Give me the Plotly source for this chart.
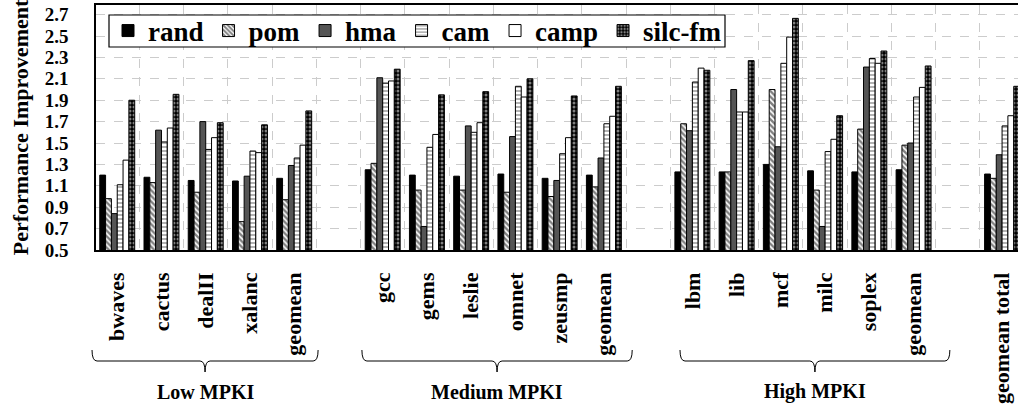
import plotly.graph_objects as go

# ---------------- data ----------------
categories = ["bwaves", "cactus", "dealII", "xalanc", "geomean", "",
              "gcc", "gems", "leslie", "omnet", "zeusmp", "geomean", "",
              "lbm", "lib", "mcf", "milc", "soplex", "geomean", "",
              "geomean total"]

rand = [1.20, 1.18, 1.15, 1.145, 1.17, None,
        1.25, 1.20, 1.19, 1.21, 1.17, 1.20, None,
        1.23, 1.23, 1.30, 1.24, 1.23, 1.25, None,
        1.21]
pom = [0.98, 1.13, 1.04, 0.765, 0.97, None,
       1.31, 1.06, 1.06, 1.04, 1.00, 1.09, None,
       1.68, 1.23, 2.00, 1.06, 1.63, 1.48, None,
       1.17]
hma = [0.84, 1.62, 1.70, 1.19, 1.29, None,
       2.11, 0.72, 1.66, 1.56, 1.15, 1.36, None,
       1.615, 2.00, 1.465, 0.72, 2.21, 1.50, None,
       1.39]
cam = [1.11, 1.51, 1.44, 1.425, 1.36, None,
       2.06, 1.46, 1.60, 2.03, 1.40, 1.68, None,
       2.07, 1.79, 2.245, 1.42, 2.29, 1.93, None,
       1.66]
camp = [1.34, 1.64, 1.55, 1.41, 1.48, None,
        2.08, 1.58, 1.69, 1.93, 1.55, 1.75, None,
        2.20, 1.79, 2.49, 1.535, 2.245, 2.02, None,
        1.755]
silc_fm = [1.90, 1.955, 1.69, 1.67, 1.80, None,
           2.19, 1.95, 1.98, 2.10, 1.94, 2.03, None,
           2.18, 2.27, 2.665, 1.755, 2.36, 2.22, None,
           2.03]

series_names = ["rand", "pom", "hma", "cam", "camp", "silc-fm"]
y_ticks = [0.5, 0.7, 0.9, 1.1, 1.3, 1.5, 1.7, 1.9, 2.1, 2.3, 2.5, 2.7]
group_labels = ["Low MPKI", "Medium MPKI", "High MPKI"]

# ---------------- layout constants ----------------
W, H = 1018, 409
ML, MT, MB = 96, 5, 159
XMIN, XMAX = -0.48, 20.36
YMIN, YMAX = 0.5, 2.79
FONT = "Liberation Serif, Times New Roman, Times, serif"
plot_w = W - ML
plot_h = H - MT - MB

positions = list(range(len(categories)))
tick_pos = [p for p, c in zip(positions, categories) if c]
tick_txt = [c for c in categories if c]

series_values = [rand, pom, hma, cam, camp, silc_fm]
styles = [
    dict(color="black", pattern=dict(shape="")),
    dict(color="white", pattern=dict(shape="\\", fgcolor="black", bgcolor="white", size=4, solidity=0.6)),
    dict(color="#555555", pattern=dict(shape="")),
    dict(color="white", pattern=dict(shape="-", fgcolor="black", bgcolor="white", size=4, solidity=0.3)),
    dict(color="white", pattern=dict(shape="")),
    dict(color="black", pattern=dict(shape=".", fgcolor="white", bgcolor="black", size=4, solidity=0.45)),
]

fig = go.Figure()
for name, vals, st in zip(series_names, series_values, styles):
    fig.add_trace(go.Bar(
        x=positions, y=vals, name=name,
        marker=dict(color=st["color"], pattern=st["pattern"],
                    line=dict(color="black", width=1)),
    ))

def px_x(p):
    return (p - XMIN) / (XMAX - XMIN)

def ppx(X):
    return (X - ML) / plot_w

def py(Y):
    return (H - MB - Y) / plot_h

# braces (data-x spans), pixel y levels
brace_spans = [(-0.57, 4.54), (5.53, 11.64), (12.72, 18.82)]
y_top, y_line, y_tip = py(350), py(361), py(372)
dx = 5 / plot_w
shapes = []
annotations = []
for (a, b), lab in zip(brace_spans, group_labels):
    x0, x1 = px_x(a), px_x(b)
    xc = (x0 + x1) / 2
    path = (f"M {x0},{y_top} Q {x0},{y_line} {x0+dx},{y_line} "
            f"L {xc-dx},{y_line} Q {xc},{y_line} {xc},{y_tip} "
            f"Q {xc},{y_line} {xc+dx},{y_line} "
            f"L {x1-dx},{y_line} Q {x1},{y_line} {x1},{y_top}")
    shapes.append(dict(type="path", xref="paper", yref="paper", path=path,
                       line=dict(color="black", width=1)))
    annotations.append(dict(x=xc, y=py(392), xref="paper", yref="paper",
                            text=lab, showarrow=False,
                            xanchor="center", yanchor="middle",
                            font=dict(family=FONT, size=20, color="black", weight="bold")))

# legend frame (white box behind the transparent legend)
shapes.append(dict(type="rect", xref="paper", yref="paper",
                   x0=ppx(109), x1=ppx(725), y0=py(47), y1=py(15),
                   fillcolor="white", line=dict(color="black", width=1.2),
                   layer="above"))

fig.update_layout(
    width=W, height=H,
    margin=dict(l=ML, r=0, t=MT, b=MB, autoexpand=False),
    paper_bgcolor="white", plot_bgcolor="white",
    barmode="group", bargap=0.21, bargroupgap=0,
    font=dict(family=FONT, color="black"),
    legend=dict(orientation="h", x=ppx(108), y=py(31),
                xanchor="left", yanchor="middle",
                bgcolor="rgba(0,0,0,0)", borderwidth=0,
                font=dict(family=FONT, size=27, color="black", weight="bold"),
                tracegroupgap=0),
    shapes=shapes, annotations=annotations,
)

fig.update_xaxes(
    range=[XMIN, XMAX], tickmode="array", tickvals=tick_pos, ticktext=tick_txt,
    tickangle=-90, ticks="", showgrid=False, zeroline=False,
    tickfont=dict(family=FONT, size=22, color="black", weight="bold"),
    ticklabelstandoff=12,
    showline=True, linecolor="black", linewidth=1.5, mirror=True,
    minor=dict(tickmode="array", tickvals=[p + 0.5 for p in positions],
               showgrid=True, griddash="dash", gridcolor="#cccccc", gridwidth=1, ticks=""),
)
fig.update_yaxes(
    range=[YMIN, YMAX], tickmode="array", tickvals=y_ticks,
    ticktext=[f"{v:.1f}" for v in y_ticks], ticks="",
    showgrid=True, griddash="dash", gridcolor="#cccccc", gridwidth=1, zeroline=False,
    tickfont=dict(family=FONT, size=19, color="black", weight="bold"),
    ticklabelstandoff=22,
    showline=True, linecolor="black", linewidth=1.5, mirror=True,
    title=dict(text="Performance Improvement", standoff=10,
               font=dict(family=FONT, size=22, color="black", weight="bold")),
)

fig.write_html("out.html")
